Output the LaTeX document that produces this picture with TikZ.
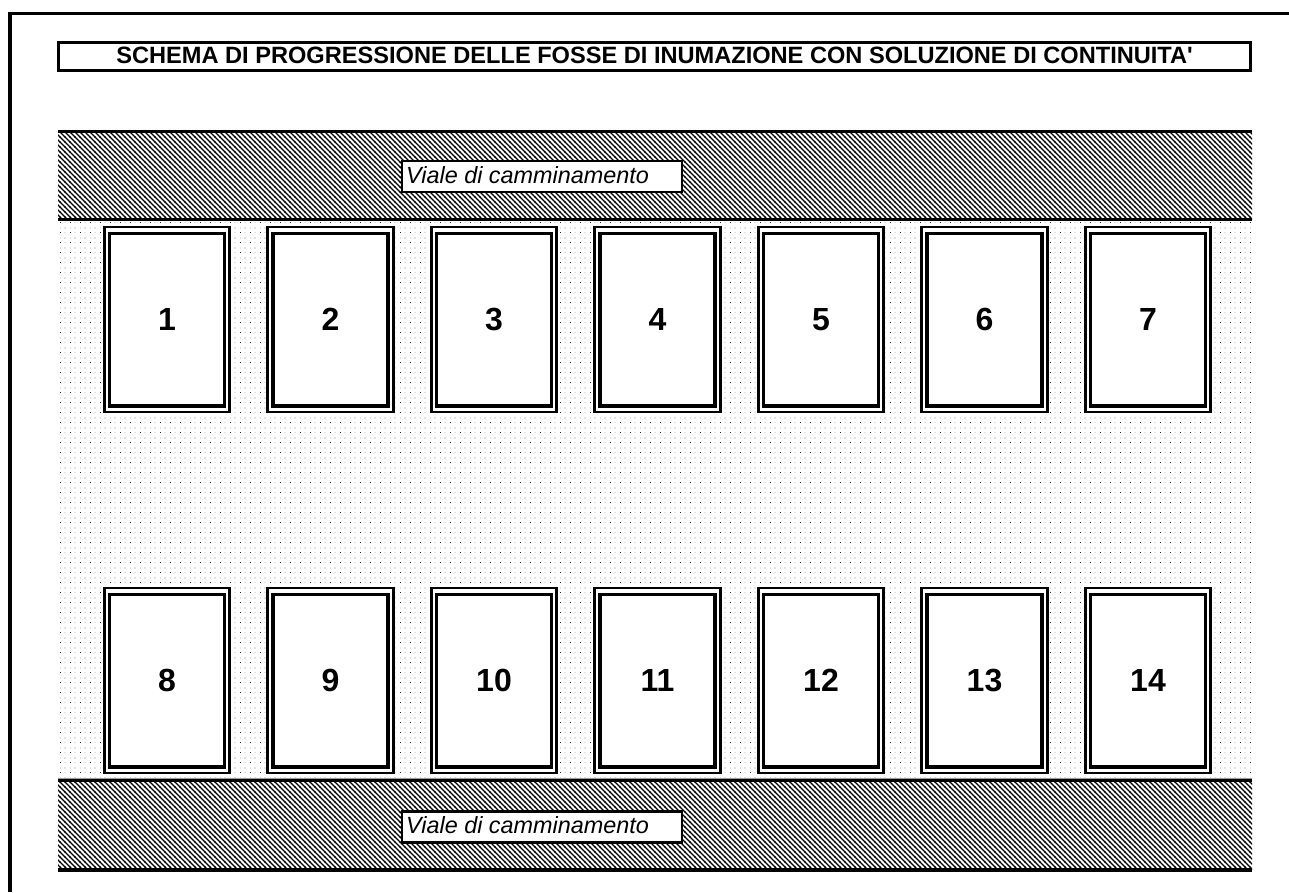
\documentclass[tikz,border=0pt]{standalone}
\usepackage{fontspec}
\setmainfont{Liberation Sans}
\usetikzlibrary{patterns,calc}
\pgfdeclarepatternformonly{myhatch}{\pgfqpoint{-1pt}{-1pt}}{\pgfqpoint{6pt}{6pt}}{\pgfqpoint{5pt}{5pt}}{%
  \pgfsetlinewidth{1.2pt}%
  \pgfpathmoveto{\pgfqpoint{-0.5pt}{5.5pt}}%
  \pgfpathlineto{\pgfqpoint{5.5pt}{-0.5pt}}%
  \pgfusepath{stroke}}
\pgfdeclarepatterninherentlycolored{mydots}{\pgfpointorigin}{\pgfqpoint{10pt}{10pt}}{\pgfqpoint{10pt}{10pt}}{%
  \pgfsetfillcolor{black!85}%
  \pgfpathrectangle{\pgfqpoint{0pt}{0pt}}{\pgfqpoint{1pt}{1pt}}%
  \pgfpathrectangle{\pgfqpoint{5pt}{5pt}}{\pgfqpoint{1pt}{1pt}}%
  \pgfusepath{fill}%
  \pgfsetfillcolor{black!30}%
  \pgfpathrectangle{\pgfqpoint{5pt}{0pt}}{\pgfqpoint{1pt}{1pt}}%
  \pgfpathrectangle{\pgfqpoint{0pt}{5pt}}{\pgfqpoint{1pt}{1pt}}%
  \pgfusepath{fill}}
\tikzset{
  frameline/.style={line width=3.8pt},
  titlebox/.style={draw, line width=3pt, fill=white, minimum width=1192pt, minimum height=28.5pt, inner sep=0pt},
  titletext/.style={font=\fontsize{23.6}{28}\selectfont\bfseries, inner sep=0pt, anchor=base},
  bandline/.style={line width=3pt},
  hatcharea/.style={pattern=myhatch},
  dotarea/.style={pattern=mydots},
  labelbox/.style={draw, line width=2.2pt, fill=white, minimum width=280pt, minimum height=31pt, inner sep=0pt},
  labeltext/.style={font=\fontsize{23.4}{28}\selectfont\itshape, inner sep=0pt, anchor=base west},
  outerbox/.style={draw, line width=2.7pt, fill=white, minimum width=125.5pt, minimum height=185pt, inner sep=0pt},
  innerbox/.style={draw, line width=3.6pt, fill=white, minimum width=115pt, minimum height=172.5pt, inner sep=0pt, font=\fontsize{32}{36}\selectfont\bfseries}
}
\begin{document}
\begin{tikzpicture}[x=1pt,y=-1pt]
\useasboundingbox[fill=white] (0,0) rectangle (1289,892);
% outer frame (left and top)
\coordinate (fa) at (10,892);
\coordinate (fb) at (10,13.5);
\coordinate (fc) at (1289,13.5);
\draw[frameline] (fa) -- (fb) -- (fc);
% title
\node[titlebox] (title) at (654.6,56.7) {};
\node[titletext] (titlet) at (654.6,63.5) {SCHEMA DI PROGRESSIONE DELLE FOSSE DI INUMAZIONE CON SOLUZIONE DI CONTINUITA\textquotesingle};
% bands
\fill[white] (58,131) rectangle (1252,870);
\fill[hatcharea] (58,131) rectangle (1252,219.6);
\fill[dotarea] (58,219.6) rectangle (1252,780.8);
\fill[hatcharea] (58,780.8) rectangle (1252,870);
\coordinate (t1) at (58,131); \coordinate (t2) at (1252,131);
\coordinate (t3) at (58,219.6); \coordinate (t4) at (1252,219.6);
\coordinate (t5) at (58,780.8); \coordinate (t6) at (1252,780.8);
\coordinate (t7) at (58,870); \coordinate (t8) at (1252,870);
\draw[bandline] (t1) -- (t2);
\draw[bandline] (t3) -- (t4);
\draw[bandline, draw=black!40, line width=1pt] ($(t5)+(0,-2.2)$) -- ($(t6)+(0,-2.2)$);
\draw[bandline] (t5) -- (t6);
\draw[bandline, line width=3.8pt] (t7) -- (t8);
% labels
\node[labelbox] (lab1) at (542,176.5) {};
\node[labeltext] (lab1t) at (406,183.3) {Viale di camminamento};
\node[labelbox] (lab2) at (542,827) {};
\node[labeltext] (lab2t) at (406,833.5) {Viale di camminamento};
% graves
\foreach \i in {1,...,7} {
  \pgfmathsetmacro\cx{167+163.5*(\i-1)}
  \node[outerbox] (o\i) at (\cx,319.6) {};
  \node[innerbox] (f\i) at (o\i.center) {\i};
}
\foreach \i in {1,...,7} {
  \pgfmathsetmacro\cx{167+163.5*(\i-1)}
  \pgfmathtruncatemacro\n{\i+7}
  \node[outerbox] (o\n) at (\cx,680.6) {};
  \node[innerbox] (f\n) at (o\n.center) {\n};
}
\end{tikzpicture}
\end{document}
